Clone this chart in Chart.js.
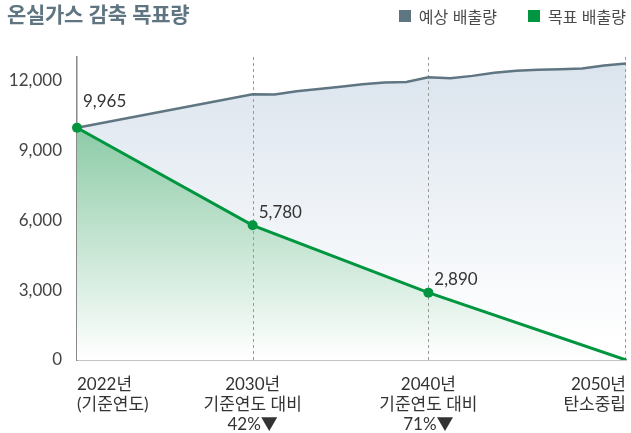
<!DOCTYPE html>
<html lang="ko">
<head>
<meta charset="utf-8">
<script src="https://cdn.jsdelivr.net/npm/chart.js@4/dist/chart.umd.min.js"></script>
<style>
    html, body { margin: 0; padding: 0; background: #fff; }
    #wrap { position: relative; width: 631px; height: 433px; }
    #title {
        position: absolute; left: 7px; top: 1px;
        font: bold 21px "Noto Sans CJK KR", sans-serif; line-height: 24px;
        color: #5f7682; letter-spacing: -0.3px;
    }
    #legend {
        position: absolute; right: 5px; top: 6px;
        display: flex; align-items: center;
        font: 16px "Noto Sans CJK KR", sans-serif; line-height: 20px;
        color: #4a4a4a; letter-spacing: 0;
    }
    #legend .item { display: flex; align-items: center; margin-left: 31px; }
    #legend .box { width: 12px; height: 12px; margin-right: 8px; }
</style>
</head>
<body>
<div id="wrap">
    <canvas id="chart" width="631" height="433"></canvas>
    <div id="title">온실가스 감축 목표량</div>
    <div id="legend"></div>
</div>
<script>
// x slots: only the four milestone years carry a label
const xSlots = ['2022', '', '', '', '', '', '', '', '2030', '', '', '', '', '', '', '', '2040', '', '', '', '', '', '', '', '', '2050'];
const tickLines = {
    '2022': ['2022년', '(기준연도)'],
    '2030': ['2030년', '기준연도 대비', '42%▼'],
    '2040': ['2040년', '기준연도 대비', '71%▼'],
    '2050': ['2050년', '탄소중립']
};
const seriesNames = ['예상 배출량', '목표 배출량'];
// 예상 배출량 (expected emissions)
const expectedValues = [9965, null, null, null, null, null, null, null, 11400, 11390, 11530, 11630, 11720, 11830, 11910, 11930, 12130, 12090, 12190, 12320, 12410, 12450, 12470, 12510, 12640, 12720];
// 목표 배출량 (target emissions)
const targetValues = [9965, null, null, null, null, null, null, null, 5780, null, null, null, null, null, null, null, 2890, null, null, null, null, null, null, null, null, 0];
const yTicks = [0, 3000, 6000, 9000, 12000];

const GRAY = '#5f7682';
const GREEN = '#00963f';
const FONT = "Lato, 'Noto Sans CJK KR', sans-serif";

// html legend
const legendEl = document.getElementById('legend');
[GRAY, GREEN].forEach((color, i) => {
    const item = document.createElement('div');
    item.className = 'item';
    item.innerHTML = `<span class="box" style="background:${color}"></span><span>${seriesNames[i]}</span>`;
    legendEl.appendChild(item);
});

function vGradient(chart, yTop, yBottom, from, to) {
    const g = chart.ctx.createLinearGradient(0, yTop, 0, yBottom);
    g.addColorStop(0, from);
    g.addColorStop(1, to);
    return g;
}

// dashed milestone lines (drawn after the fills, before the lines)
const milestoneLines = {
    id: 'milestoneLines',
    beforeDatasetsDraw(chart) {
        const {ctx, chartArea, scales: {x}} = chart;
        ctx.save();
        ctx.strokeStyle = '#9a9a9a';
        ctx.lineWidth = 1;
        ctx.setLineDash([3, 3]);
        xSlots.forEach((s, i) => {
            if (!s || i === 0) return;
            let px = Math.round(x.getPixelForValue(i)) + 0.5;
            if (px > chartArea.right) px = chartArea.right - 0.5;
            ctx.beginPath();
            ctx.moveTo(px, chartArea.top);
            ctx.lineTo(px, chartArea.bottom);
            ctx.stroke();
        });
        ctx.restore();
    }
};

// value labels on the target points
const pointLabels = {
    id: 'pointLabels',
    afterDatasetsDraw(chart) {
        const {ctx} = chart;
        const meta = chart.getDatasetMeta(0);
        ctx.save();
        ctx.font = '17px ' + FONT;
        ctx.fillStyle = '#333';
        ctx.textAlign = 'left';
        ctx.textBaseline = 'middle';
        targetValues.forEach((v, i) => {
            if (v === null || v === 0) return;
            const pt = meta.data[i];
            const dy = i === 0 ? -26 : -13;
            ctx.fillText(v.toLocaleString('en-US'), pt.x + 6, pt.y + dy);
        });
        ctx.restore();
    }
};

new Chart(document.getElementById('chart'), {
    type: 'line',
    data: {
        labels: xSlots,
        datasets: [
            {
                label: seriesNames[1],
                data: targetValues,
                borderColor: GREEN,
                borderWidth: 3,
                spanGaps: true,
                fill: 'origin',
                backgroundColor: (c) => {
                    const {chart} = c;
                    if (!chart.chartArea) return 'rgba(0,150,63,0.3)';
                    const y = chart.scales.y;
                    return vGradient(chart, y.getPixelForValue(10000), y.getPixelForValue(0), '#8ccba6', '#ffffff');
                },
                pointRadius: (c) => (c.raw ? 5 : 0),
                pointBackgroundColor: GREEN,
                pointBorderWidth: 0,
                tension: 0
            },
            {
                label: seriesNames[0],
                data: expectedValues,
                borderColor: GRAY,
                borderWidth: 2.5,
                spanGaps: true,
                fill: 'origin',
                backgroundColor: (c) => {
                    const {chart} = c;
                    if (!chart.chartArea) return 'rgba(95,118,130,0.1)';
                    return vGradient(chart, chart.chartArea.top, chart.chartArea.bottom - 20, '#dae3ed', '#ffffff');
                },
                pointRadius: 0,
                tension: 0
            }
        ]
    },
    options: {
        responsive: false,
        animation: false,
        devicePixelRatio: 1,
        layout: { padding: { top: 57, right: 4, left: 0, bottom: 0 } },
        plugins: {
            legend: { display: false },
            tooltip: { enabled: false },
            filler: { drawTime: 'beforeDatasetsDraw' }
        },
        scales: {
            x: {
                type: 'category',
                offset: false,
                grid: { display: false, drawTicks: false },
                border: { display: true, color: '#8a8a8a', width: 1.5 },
                ticks: {
                    autoSkip: false,
                    maxRotation: 0,
                    align: 'inner',
                    padding: 15,
                    color: '#333',
                    font: { family: FONT, size: 17, lineHeight: 20 / 17 },
                    callback: (v, i) => tickLines[xSlots[i]] || ''
                },
                afterFit: (scale) => {
                    scale.height = 73;
                    scale.paddingLeft = 0;
                    scale.paddingRight = 0;
                }
            },
            y: {
                min: 0,
                max: 13000,
                grid: { display: false, drawTicks: false },
                border: { display: true, color: '#8a8a8a', width: 1.5 },
                ticks: {
                    stepSize: 3000,
                    includeBounds: false,
                    padding: 15,
                    color: '#444',
                    font: { family: FONT, size: 17 }
                },
                afterBuildTicks: (scale) => {
                    scale.ticks = yTicks.map(v => ({ value: v }));
                },
                afterFit: (scale) => { scale.width = 77; }
            }
        }
    },
    plugins: [milestoneLines, pointLabels]
});
</script>
</body>
</html>
